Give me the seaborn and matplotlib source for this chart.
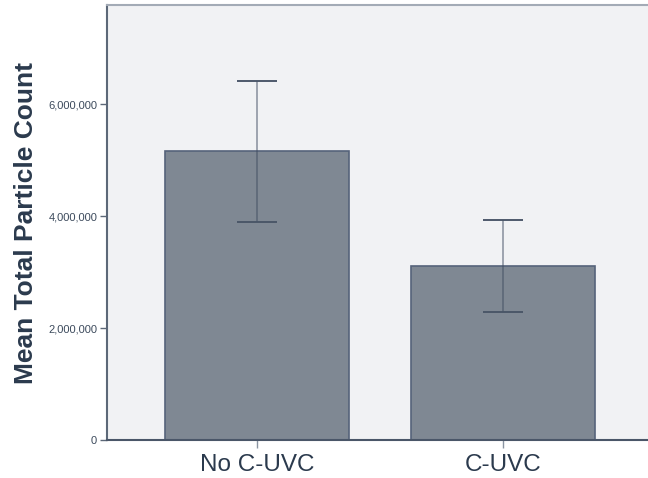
import matplotlib
matplotlib.use("Agg")
import matplotlib.pyplot as plt
import matplotlib.ticker as mticker
import numpy as np
import seaborn as sns

# data
groups = ["No C-UVC", "C-UVC"]
means = [5160000, 3110000]
ci_low = [3900000, 2290000]
ci_high = [6420000, 3930000]

sns.set_style("white")
plt.rcParams['font.family'] = ['Liberation Sans', 'DejaVu Sans']

fig = plt.figure(figsize=(6.48, 4.78), dpi=100)
ax = fig.add_axes([0.165, 0.0795, 0.835, 0.91])
ax.set_facecolor("#f1f2f4")

sns.barplot(x=groups, y=means, width=0.75, color="#7f8893", edgecolor="#56637a",
            linewidth=1.2, saturation=1, ax=ax)

pos = np.arange(len(groups))
yerr = [np.array(means) - np.array(ci_low), np.array(ci_high) - np.array(means)]
ax.errorbar(pos, means, yerr=yerr, fmt="none", ecolor="#3f4c60", alpha=0.55,
            elinewidth=1.2, capsize=14.4, capthick=1.2)
# caps drawn solid dark
ax.errorbar(pos, means, yerr=yerr, fmt="none", ecolor="#4a5668", elinewidth=0,
            capsize=14.4, capthick=1.3)

ax.set_xlim(-0.61, 1.59)
ax.set_ylim(0, 7770000)
ax.set_yticks([0, 2000000, 4000000, 6000000])
ax.yaxis.set_major_formatter(mticker.FuncFormatter(lambda v, p: f"{int(v):,}"))

ax.spines["right"].set_visible(False)
ax.spines["left"].set_color("#5c6878")
ax.spines["left"].set_linewidth(1.5)
ax.spines["bottom"].set_color("#4a5668")
ax.spines["bottom"].set_linewidth(1.5)
ax.spines["top"].set_color("#a3abb6")
ax.spines["top"].set_linewidth(1.5)

ax.tick_params(axis="y", left=True, length=5, width=1, color="#5c6878",
               labelsize=8, labelcolor="#3c4a5c", pad=2)
ax.tick_params(axis="x", bottom=True, length=6, width=1, color="#8a94a2",
               labelsize=17.5, labelcolor="#2b3a4d", pad=4)

ax.set_xlabel("")
ax.set_ylabel("Mean Total Particle Count", fontsize=19, fontweight="bold",
              color="#2b3a4d")
ax.yaxis.set_label_coords(-0.128, 0.5)

fig.savefig("out.png", dpi=100)
